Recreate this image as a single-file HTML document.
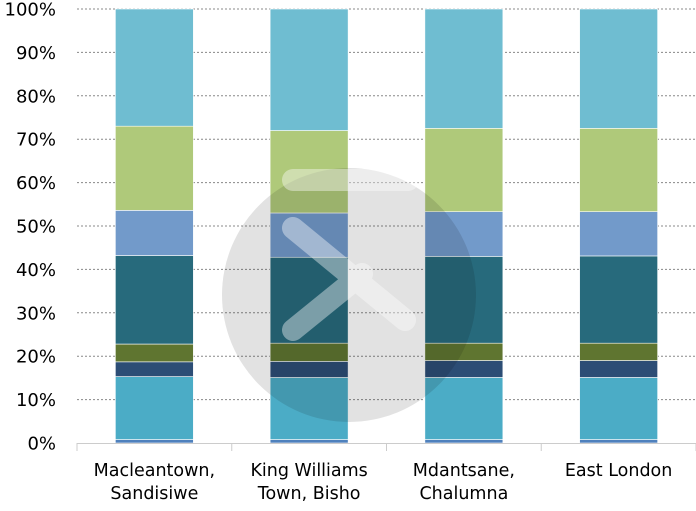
<!DOCTYPE html>
<html><head><meta charset="utf-8"><style>
body{margin:0;background:#fff;}
svg text{font-family:"DejaVu Sans","Liberation Sans",sans-serif;}
</style></head><body>
<svg id="chart" width="696" height="506" xmlns="http://www.w3.org/2000/svg">
<g id="grid"></g>
<g id="bars"></g>
<g id="axes"></g>
<g>
<circle cx="349" cy="295" r="127" fill="#e2e2e2" style="mix-blend-mode:multiply"/>
<g opacity="0.4">
<line x1="293" y1="180" x2="408" y2="180" stroke="#fff" stroke-width="22" stroke-linecap="round"/>
<line x1="293" y1="228" x2="405" y2="320" stroke="#fff" stroke-width="22" stroke-linecap="round"/>
<line x1="293" y1="330" x2="362" y2="274" stroke="#fff" stroke-width="22" stroke-linecap="round"/>
</g>
</g>
</svg>
<script>
const categories=[["Macleantown,","Sandisiwe"],["King Williams","Town, Bisho"],["Mdantsane,","Chalumna"],["East London",""]];
const s1=[0.8,0.8,0.8,0.8];
const s2=[14.5,14.3,14.3,14.3];
const s3=[3.4,3.7,3.9,3.9];
const s4=[4.1,4.2,4.0,4.0];
const s5=[20.4,19.8,20.0,20.1];
const s6=[10.4,10.2,10.3,10.2];
const s7=[19.4,19.0,19.2,19.2];
const s8=[27.0,28.0,27.5,27.5];
const series=[s1,s2,s3,s4,s5,s6,s7,s8];
const colors=["#4f81bd","#4bacc6","#2c4d75","#5f7530","#276a7c","#729aca","#afc97a","#6fbdd1"];
const yTicks=[0,10,20,30,40,50,60,70,80,90,100];
const NS="http://www.w3.org/2000/svg";
const x0=77,x1=696,yb=443,yt=9;
const y=v=>yb-(v/100)*(yb-yt);
const band=(x1-x0)/categories.length;
const xc=i=>x0+band*(i+0.5);
const bw=78;
function mk(t,a,p){const e=document.createElementNS(NS,t);for(const k in a)e.setAttribute(k,a[k]);p.appendChild(e);return e;}
const grid=document.getElementById('grid'),bars=document.getElementById('bars'),axes=document.getElementById('axes');
yTicks.forEach(t=>{
  if(t>0){const l=mk('line',{x1:x0,x2:x1,y1:y(t),y2:y(t),stroke:'#888','stroke-dasharray':'2,2','stroke-width':1},grid);
  
  }
  const tx=mk('text',{x:56,y:y(t)+6.5,'text-anchor':'end','font-size':18,fill:'#000'},axes);
  tx.textContent=t+'%';
  
  
});
const ax=mk('line',{x1:x0,x2:x1,y1:yb+0.5,y2:yb+0.5,stroke:'#ccc'},axes);


for(let i=0;i<=categories.length;i++){const tk=mk('line',{x1:x0+band*i,x2:x0+band*i,y1:yb,y2:yb+8,stroke:'#ccc'},axes);

}
categories.forEach((c,i)=>{
  let acc=0;
  series.forEach((s,j)=>{
    const r=mk('rect',{x:xc(i)-bw/2,y:y(acc+s[i]),width:bw,height:y(acc)-y(acc+s[i]),fill:colors[j],stroke:'#fff','stroke-width':0.6},bars);
    
    
    acc+=s[i];
  });
  c.forEach((ln,k)=>{
    const t=mk('text',{x:xc(i),y:476+k*23,'text-anchor':'middle','font-size':17.5,fill:'#000'},axes);
    t.textContent=ln;
    
    
  });
});
</script>
</body></html>
